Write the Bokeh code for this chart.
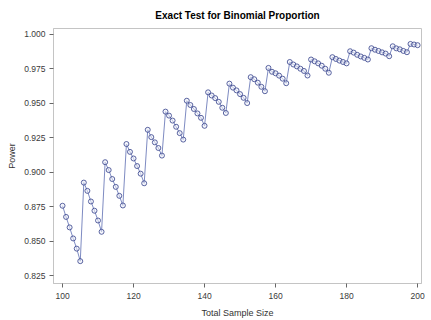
from bokeh.plotting import figure
from bokeh.embed import file_html
from bokeh.resources import INLINE
from bokeh.models import FixedTicker, NumeralTickFormatter, Range1d, ColumnDataSource

sample_size = list(range(100, 201))
power = [
    # 100-105
    0.8757, 0.8676, 0.8600, 0.8520, 0.8446, 0.8355,
    # 106-111
    0.8925, 0.8865, 0.8788, 0.8721, 0.8650, 0.8568,
    # 112-117
    0.9073, 0.9016, 0.8951, 0.8894, 0.8829, 0.8759,
    # 118-123
    0.9205, 0.9148, 0.9100, 0.9045, 0.8990, 0.8920,
    # 124-128
    0.9308, 0.9255, 0.9217, 0.9176, 0.9121,
    # 129-134
    0.9440, 0.9411, 0.9375, 0.9330, 0.9284, 0.9237,
    # 135-140
    0.9519, 0.9488, 0.9459, 0.9427, 0.9395, 0.9337,
    # 141-146
    0.9580, 0.9557, 0.9538, 0.9511, 0.9468, 0.9430,
    # 147-152
    0.9643, 0.9614, 0.9594, 0.9567, 0.9540, 0.9502,
    # 153-157
    0.9690, 0.9675, 0.9650, 0.9620, 0.9588,
    # 158-163
    0.9757, 0.9729, 0.9718, 0.9701, 0.9679, 0.9646,
    # 164-169
    0.9800, 0.9782, 0.9768, 0.9751, 0.9735, 0.9702,
    # 170-175
    0.9818, 0.9805, 0.9790, 0.9773, 0.9751, 0.9722,
    # 176-180
    0.9835, 0.9822, 0.9810, 0.9800, 0.9790,
    # 181-186
    0.9878, 0.9868, 0.9852, 0.9840, 0.9830, 0.9818,
    # 187-192
    0.9900, 0.9889, 0.9880, 0.9870, 0.9861, 0.9842,
    # 193-197
    0.9914, 0.9899, 0.9892, 0.9880, 0.9871,
    # 198-200
    0.9931, 0.9927, 0.9922,
]

x_ticks = [100, 120, 140, 160, 180, 200]
y_ticks = [0.825, 0.850, 0.875, 0.900, 0.925, 0.950, 0.975, 1.000]

title_text = "Exact Test for Binomial Proportion"
x_label = "Total Sample Size"
y_label = "Power"

src = ColumnDataSource(dict(n=sample_size, power=power))

p = figure(width=431, height=320, output_backend="svg", toolbar_location=None,
           x_range=Range1d(97.46, 201.1), y_range=Range1d(0.8193, 1.0043),
           min_border_left=53, min_border_right=10, min_border_top=27,
           min_border_bottom=35, title=title_text)

p.title.align = "center"
p.title.text_font = "Liberation Sans"
p.title.text_font_size = "10px"
p.title.text_font_style = "bold"
p.title.text_color = "#000000"
p.title.offset = 0
p.title.standoff = 15

p.line("n", "power", source=src, line_color="#7E8BC2", line_width=1)
p.scatter("n", "power", source=src, marker="circle", size=5,
          line_color="#34408A", line_width=0.8, fill_color="#EEF0FA", fill_alpha=0.5)

p.xgrid.visible = False
p.ygrid.visible = False
p.background_fill_color = "white"
p.border_fill_color = "white"
p.outline_line_color = "#C4C4C4"
p.outline_line_width = 1

p.xaxis.ticker = FixedTicker(ticks=x_ticks)
p.yaxis.ticker = FixedTicker(ticks=y_ticks)
p.yaxis.formatter = NumeralTickFormatter(format="0.000")

for ax in (p.xaxis, p.yaxis):
    ax.axis_line_color = "#C4C4C4"
    ax.major_tick_line_color = "#666666"
    ax.major_tick_out = 4
    ax.major_tick_in = 0
    ax.minor_tick_line_color = None
    ax.major_label_text_font = "Liberation Sans"
    ax.major_label_text_font_size = "8.5px"
    ax.major_label_text_color = "#3A3A3A"
    ax.axis_label_text_font = "Liberation Sans"
    ax.axis_label_text_font_size = "9px"
    ax.axis_label_text_font_style = "normal"
    ax.axis_label_text_color = "#333333"

p.xaxis.axis_label = x_label
p.yaxis.axis_label = y_label
p.xaxis.major_label_standoff = 5
p.yaxis.major_label_standoff = 4
p.xaxis.axis_label_standoff = 6
p.yaxis.axis_label_standoff = 4

open("out.html", "w").write(file_html(p, INLINE))
